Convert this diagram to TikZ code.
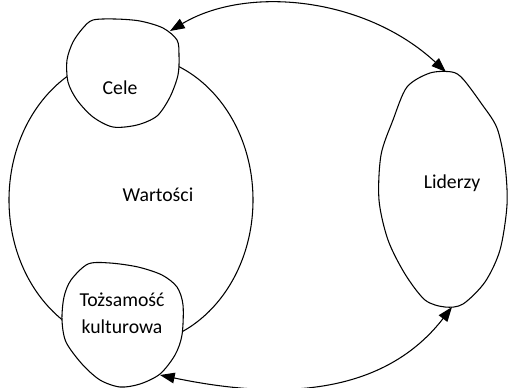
\documentclass[tikz,border=0pt]{standalone}
\usepackage{fontspec}
\setmainfont{Carlito}
\usepackage{tikz}
\usetikzlibrary{arrows.meta}

\begin{document}
\begin{tikzpicture}[x=0.75pt, y=-0.75pt, line width=0.8pt,
	blob/.style={draw, fill=white},
	txt/.style={font=\fontsize{14.8}{20.2}\selectfont, inner sep=0pt, align=center},
	link/.style={{Triangle[length=11pt,width=8pt]}-{Triangle[length=11pt,width=8pt]}}]
	\useasboundingbox (0,0) rectangle (508,387);

	\draw (131,200) ellipse [x radius=122, y radius=145];

	\draw[blob] plot[smooth cycle] coordinates {(93,20) (115,19) (140,21) (163,28)
		(177,40) (179,55) (178,75) (170,97) (157,116) (137,125) (113,127) (93,117)
		(77,100) (68,82) (67,60) (73,42) (83,28)};
	\draw[blob] plot[smooth cycle] coordinates {(430,73) (452,72) (463,79) (481,103) (497,128)
		(505,165) (507,205) (500,250) (485,282) (463,304) (445,307) (425,300) (405,274)
		(388,240) (379,200) (381,155) (393,120) (407,87)};
	\draw[blob] plot[smooth cycle] coordinates {(88,264) (110,263) (138,267) (162,275) (177,287)
		(183,305) (182,335) (175,355) (160,374) (140,384) (120,387) (100,380) (82,364)
		(66,342) (62,320) (64,297) (71,280)};

	\node[txt] at (158,195) (wartosci) {Wartości};
	\node[txt] at (120,88) (cele) {Cele};
	\node[txt] at (452,183) (liderzy) {Liderzy};
	\node[txt] at (122,313) (tozsamosc) {Tożsamość\\kulturowa};

	\coordinate (celeNE) at (170,31);
	\coordinate (lidN) at (446,72);
	\coordinate (tozSE) at (160,375);
	\coordinate (lidS) at (452,307);

	\draw[link] (celeNE) .. controls (247,-15) and (365,-3) .. (lidN);
	\draw[link] (tozSE) .. controls (270,398) and (380,400) .. (lidS);
\end{tikzpicture}
\end{document}
